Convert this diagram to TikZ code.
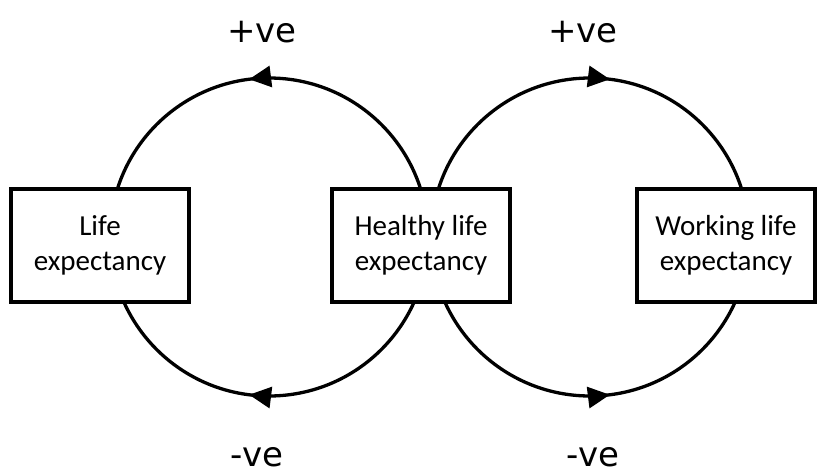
\documentclass[tikz,border=0pt]{standalone}
\usepackage{fontspec}
\newfontfamily\carlito{Carlito}
\newfontfamily\dejavu{DejaVu Sans}
\usetikzlibrary{arrows.meta,decorations.markings}
\tikzset{
  boxnode/.style={draw, line width=3.2pt, fill=white, minimum width=178pt, minimum height=113pt,
    align=center, inner sep=0pt, font=\carlito\fontsize{29}{35}\selectfont},
  signlabel/.style={anchor=base, inner sep=0pt, font=\dejavu\fontsize{34}{38}\selectfont},
  looparc/.style={line width=3.3pt, postaction={decorate}, decoration={markings,
    mark=at position 0.54 with {\arrow{Triangle[length=22pt,width=21pt]}}}}
}
\begin{document}
\begin{tikzpicture}[x=1pt,y=-1pt]
\useasboundingbox (0,0) rectangle (819,474);
\coordinate (c1) at (269,237);
\coordinate (c2) at (590,237);
% loops
\draw[looparc] ([shift={(0:159)}]c1) arc[start angle=0, end angle=-180, radius=159];
\draw[looparc] ([shift={(0:159)}]c1) arc[start angle=0, end angle=180, radius=159];
\draw[looparc] ([shift={(180:159)}]c2) arc[start angle=-180, end angle=0, radius=159];
\draw[looparc] ([shift={(180:159)}]c2) arc[start angle=180, end angle=0, radius=159];
% boxes
\node[boxnode] (life) at (100,245.5) {Life\\expectancy};
\node[boxnode] (healthy) at (421,245.5) {Healthy life\\expectancy};
\node[boxnode] (working) at (726,245.5) {Working life\\expectancy};
% labels
\node[signlabel] (p1) at (262,42) {+ve};
\node[signlabel] (p2) at (583,42) {+ve};
\node[signlabel] (m1) at (257,466) {-ve};
\node[signlabel] (m2) at (593,466) {-ve};
\end{tikzpicture}
\end{document}
